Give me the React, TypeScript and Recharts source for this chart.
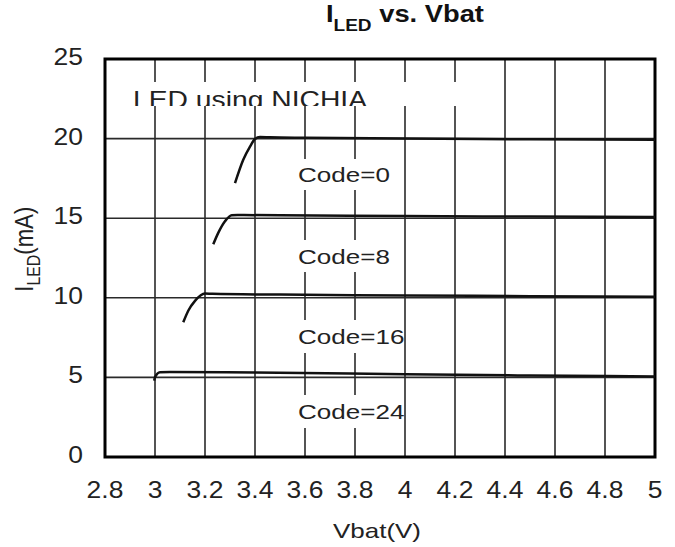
import { LineChart, Line, XAxis, YAxis, CartesianGrid, ReferenceArea } from "recharts"

const vbatTicks = [2.8, 3, 3.2, 3.4, 3.6, 3.8, 4, 4.2, 4.4, 4.6, 4.8, 5]
const iledTicks = [0, 5, 10, 15, 20, 25]

// [Vbat (V), I_LED (mA)]
const code0 = [[3.32, 17.2], [3.353, 18.67], [3.38, 19.5], [3.4, 19.98], [3.42, 20.1], [3.46, 20.08], [3.6, 20.05], [4.0, 20.0], [4.5, 19.96], [5.0, 19.93]]
const code8 = [[3.233, 13.36], [3.253, 14.08], [3.28, 14.81], [3.307, 15.19], [3.33, 15.2], [3.5, 15.18], [4.0, 15.14], [4.5, 15.1], [5.0, 15.08]]
const code16 = [[3.113, 8.46], [3.133, 9.19], [3.16, 9.81], [3.2, 10.27], [3.23, 10.25], [3.5, 10.2], [4.0, 10.15], [4.5, 10.1], [5.0, 10.06]]
const code24 = [[2.997, 4.8], [3.0, 5.02], [3.02, 5.33], [3.06, 5.34], [3.4, 5.3], [4.0, 5.2], [4.5, 5.12], [5.0, 5.06]]

const codeNames = ["Code=0", "Code=8", "Code=16", "Code=24"]
// label boxes: [vbat from, vbat to, mA low, mA high]
const codeBoxes = [[3.54, 3.96, 16.77, 18.72], [3.54, 3.96, 11.62, 13.63], [3.54, 3.96, 6.53, 8.61], [3.54, 3.96, 1.82, 3.89]]
const noteText = "LED using NICHIA"
const noteBox = [2.84, 4.22, 22.05, 23.55]

const toPoints = (rows: number[][]) => rows.map(([v, i]) => ({ v, i }))
const curves = [code0, code8, code16, code24].map(toPoints)

const font = "'Liberation Sans', Arial, Helvetica, sans-serif"
const ink = "#222"

function XTick({ x, y, payload }: any) {
  return (
    <g transform={`translate(${x},${y + 41}) scale(1.15,1)`}>
      <text textAnchor="middle" fontSize={23} fontFamily={font} fill={ink}>{payload.value}</text>
    </g>
  )
}

function YTick({ x, y, payload }: any) {
  return (
    <g transform={`translate(${x},${y + 6}) scale(1.15,1)`}>
      <text textAnchor="end" fontSize={23} fontFamily={font} fill={ink}>{payload.value}</text>
    </g>
  )
}

function CodeTag({ viewBox, text }: any) {
  const { x, y, height } = viewBox
  return (
    <g transform={`translate(${x + 8},${y + height / 2 + 7.5}) scale(1.24,1)`}>
      <text fontSize={21} fontFamily={font} fill={ink}>{text}</text>
    </g>
  )
}

function NoteTag({ viewBox }: any) {
  const { x, y, width, height } = viewBox
  return (
    <g>
      <defs>
        <clipPath id="note-clip">
          <rect x={x} y={y} width={width} height={height} />
        </clipPath>
      </defs>
      <text x={x + 18} y={y + 25.5} fontSize={24} fontFamily={font} fill={ink}
        textLength={234} lengthAdjust="spacingAndGlyphs" clipPath="url(#note-clip)">{noteText}</text>
    </g>
  )
}

export default function App() {
  return (
    <div style={{ position: "absolute", left: 0, top: 0, width: 675, height: 547, background: "#fff" }}>
      <LineChart width={675} height={547} margin={{ top: 59, right: 20, bottom: 0, left: 0 }}>
        <CartesianGrid stroke="#2a2a2a" strokeWidth={1.6} />
        <XAxis dataKey="v" type="number" domain={[2.8, 5]} ticks={vbatTicks} interval={0} height={90}
          axisLine={false} tickLine={false} tickSize={0} tickMargin={0} tick={(p: any) => <XTick {...p} />} allowDataOverflow />
        <YAxis type="number" domain={[0, 25]} ticks={iledTicks} interval={0} width={105}
          axisLine={false} tickLine={false} tickSize={0} tickMargin={22} tick={(p: any) => <YTick {...p} />} allowDataOverflow />
        <ReferenceArea x1={noteBox[0]} x2={noteBox[1]} y1={noteBox[2]} y2={noteBox[3]} fill="#fff" fillOpacity={1}
          stroke="none" label={(p: any) => <NoteTag viewBox={p.viewBox} />} />
        {codeBoxes.map((b, k) => (
          <ReferenceArea key={codeNames[k]} x1={b[0]} x2={b[1]} y1={b[2]} y2={b[3]} fill="#fff" fillOpacity={1}
            stroke="none" label={(p: any) => <CodeTag viewBox={p.viewBox} text={codeNames[k]} />} />
        ))}
        {curves.map((pts, k) => (
          <Line key={codeNames[k]} data={pts} dataKey="i" type="monotone" stroke="#111" strokeWidth={2.5}
            dot={false} activeDot={false} isAnimationActive={false} />
        ))}
        <ReferenceArea x1={2.8} x2={5} y1={0} y2={25} fill="none" stroke="#000" strokeWidth={3} />
      </LineChart>
      <svg width={675} height={547} style={{ position: "absolute", left: 0, top: 0, pointerEvents: "none" }}>
        <text x={326} y={22} fontSize={23} fontWeight="bold" fontFamily={font} fill="#111"
          textLength={158} lengthAdjust="spacingAndGlyphs">
          I<tspan fontSize={16} dy={9}>LED</tspan><tspan dy={-9}> vs. Vbat</tspan>
        </text>
        <text x={333} y={538} fontSize={21} fontFamily={font} fill={ink} textLength={88} lengthAdjust="spacingAndGlyphs">Vbat(V)</text>
        <g transform="translate(33,291.7) rotate(-90) scale(1,1.2)">
          <text x={0} y={0} fontSize={21} fontFamily={font} fill={ink} textLength={85} lengthAdjust="spacingAndGlyphs">
            I<tspan fontSize={15} dy={6}>LED</tspan><tspan dy={-6}>(mA)</tspan>
          </text>
        </g>
      </svg>
    </div>
  )
}
